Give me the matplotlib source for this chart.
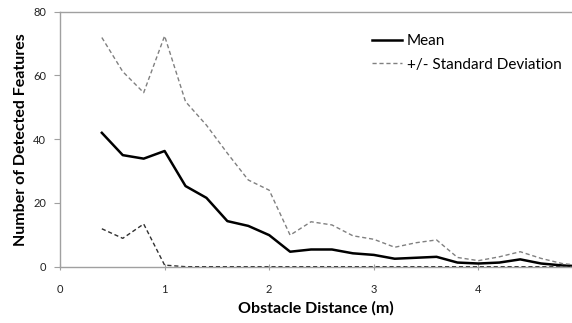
import matplotlib
matplotlib.use("Agg")
import matplotlib.pyplot as plt

plt.rcParams['font.family'] = ['Lato', 'DejaVu Sans']

# distances (m)
distance = [0.4, 0.6, 0.8, 1.0, 1.2, 1.4, 1.6, 1.8, 2.0, 2.2, 2.4, 2.6,
            2.8, 3.0, 3.2, 3.4, 3.6, 3.8, 4.0, 4.2, 4.4, 4.6, 4.8, 5.0]
mean = [42.0, 35.0, 33.9, 36.3, 25.3, 21.6, 14.3, 12.8, 9.9, 4.7, 5.4, 5.4,
        4.2, 3.7, 2.5, 2.8, 3.1, 1.3, 1.0, 1.3, 2.3, 1.0, 0.4, 0.1]
upper = [71.9, 61.2, 54.6, 72.4, 51.8, 44.4, 35.6, 27.2, 24.0, 9.9, 14.1, 13.1,
         9.7, 8.6, 6.1, 7.5, 8.4, 2.9, 1.9, 3.1, 4.7, 2.6, 1.0, 0.3]
lower = [11.9, 8.9, 13.4, 0.5, 0, 0, 0, 0, 0, 0, 0, 0,
         0, 0, 0, 0, 0, 0, 0, 0, 0, 0, 0, 0]

xticks = [0, 1, 2, 3, 4]
yticks = [0, 20, 40, 60, 80]

fig = plt.figure(figsize=(5.72, 3.23), dpi=100)
ax = fig.add_axes([60 / 572, 56.3 / 323, 512 / 572, 255 / 323])

ax.plot(distance, mean, color='black', lw=1.8, label='Mean')
ax.plot(distance, upper, color='#808080', lw=1.0, ls=(0, (3, 2)),
        label='+/- Standard Deviation')
ax.plot(distance, lower, color='#303030', lw=1.0, ls=(0, (3, 2)))

ax.set_xlim(0, 512 / 104.6)
ax.set_ylim(0, 80)
ax.set_xticks(xticks)
ax.set_yticks(yticks)

for s in ['left', 'bottom', 'top']:
    ax.spines[s].set_color('#a0a0a0')
    ax.spines[s].set_linewidth(1.0)
ax.spines['right'].set_visible(False)

ax.tick_params(axis='x', direction='inout', length=5, color='#a0a0a0',
               labelsize=8, labelcolor='#222222', pad=10)
ax.tick_params(axis='y', direction='out', length=4, color='#a0a0a0',
               labelsize=8, labelcolor='#222222', pad=6)

ax.set_xlabel('Obstacle Distance (m)', fontsize=11.5, fontweight='bold', labelpad=4)
ax.set_ylabel('Number of Detected Features', fontsize=11.5, fontweight='bold', labelpad=4)

ax.legend(loc='upper left', bbox_to_anchor=(298 / 512, 0.965), frameon=False,
          fontsize=11, handlelength=2.0, handletextpad=0.3, labelspacing=0.6)

fig.savefig('out.png', dpi=100)
